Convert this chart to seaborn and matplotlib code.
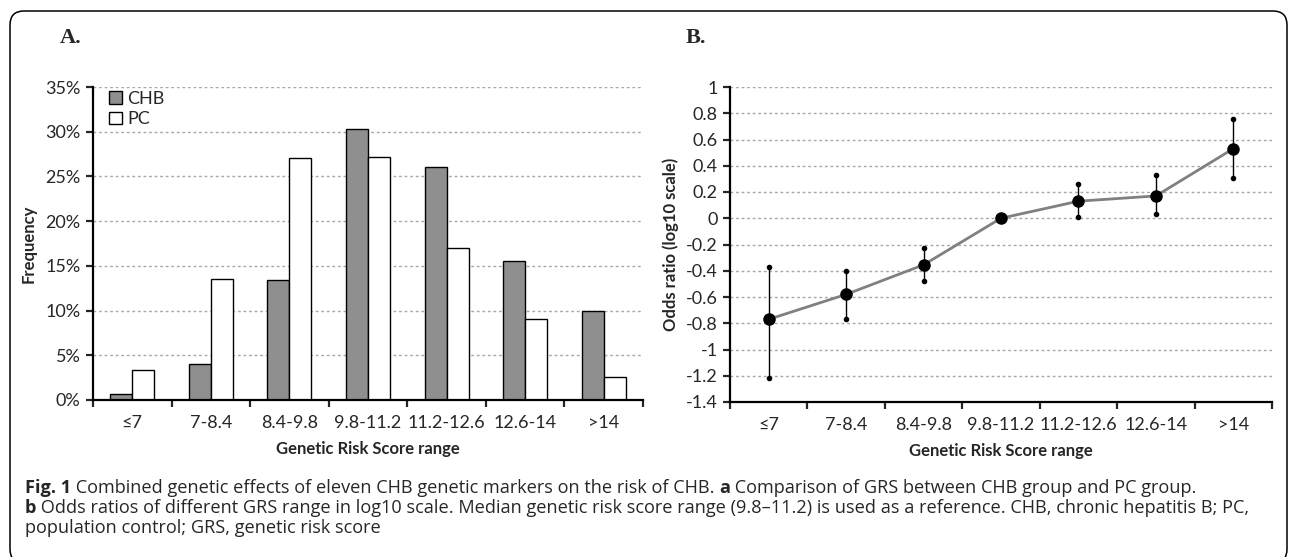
import matplotlib
matplotlib.use('Agg')
import matplotlib.pyplot as plt
from matplotlib import font_manager
from matplotlib.patches import FancyBboxPatch
from matplotlib.transforms import IdentityTransform
from matplotlib.ticker import PercentFormatter
import numpy as np
import pandas as pd
import seaborn as sns

# data
score_ranges = ['≤7', '7-8.4', '8.4-9.8', '9.8-11.2', '11.2-12.6', '12.6-14', '>14']
chb_freq = [0.7, 4.0, 13.4, 30.3, 26.0, 15.5, 10.0]
pc_freq = [3.3, 13.5, 27.1, 27.2, 17.0, 9.1, 2.6]

log_or = [-0.77, -0.58, -0.355, 0.0, 0.13, 0.17, 0.53]
log_or_upper = [-0.37, -0.40, -0.23, 0.0, 0.26, 0.33, 0.76]
log_or_lower = [-1.22, -0.77, -0.48, 0.0, 0.01, 0.03, 0.31]

caption_runs = [
    [('Fig. 1', True), (' Combined genetic effects of eleven CHB genetic markers on the risk of CHB. ', False),
     ('a', True), (' Comparison of GRS between CHB group and PC group.', False)],
    [('b', True), (' Odds ratios of different GRS range in log10 scale. Median genetic risk score range '
                   '(9.8\u201311.2) is used as a reference. CHB, chronic hepatitis B; PC,', False)],
    [('population control; GRS, genetic risk score', False)],
]

sns.set_style('white')
plt.rcParams['font.family'] = ['Lato', 'DejaVu Sans']
plt.rcParams['axes.unicode_minus'] = False

installed = {f.name for f in font_manager.fontManager.ttflist}
cap_font = ['Liberation Sans Narrow', 'DejaVu Sans'] if 'Liberation Sans Narrow' in installed \
    else ['Open Sans', 'DejaVu Sans']

W, H = 1290, 557
fig = plt.figure(figsize=(W / 100, H / 100), dpi=100)

TICK_FS = 13
LAB_FS = 12


def px_axes(x0, x1, ytop, ybot):
    return fig.add_axes([x0 / W, (H - ybot) / H, (x1 - x0) / W, (ybot - ytop) / H])


def style_axes(ax):
    for s in ['top', 'right']:
        ax.spines[s].set_visible(False)
    for s in ['left', 'bottom']:
        ax.spines[s].set_linewidth(1.6)
        ax.spines[s].set_color('black')
    ax.set_axisbelow(True)
    ax.yaxis.grid(True, linestyle=(0, (2, 2)), color='#a8a8a8', lw=1)
    ax.xaxis.grid(False)
    # tick marks on category boundaries, labels at centres
    n = len(score_ranges)
    ax.set_xlim(-0.5, n - 0.5)
    ax.set_xticks(np.arange(n + 1) - 0.5)
    ax.set_xticklabels([])
    ax.set_xticks(np.arange(n), minor=True)
    ax.set_xticklabels(score_ranges, minor=True, fontsize=TICK_FS)
    ax.tick_params(axis='x', which='major', direction='out', length=5, width=1.6, bottom=True)
    ax.tick_params(axis='x', which='minor', length=0, pad=11)
    ax.tick_params(axis='y', direction='out', length=5, width=1.6, labelsize=TICK_FS, left=True, pad=4)
    ax.set_xlabel('Genetic Risk Score range', fontsize=LAB_FS, fontweight='bold', labelpad=7)


# ---- panel A
axA = px_axes(93, 643, 87, 400)
df = pd.DataFrame({
    'range': score_ranges * 2,
    'freq': chb_freq + pc_freq,
    'group': ['CHB'] * len(score_ranges) + ['PC'] * len(score_ranges),
})
sns.barplot(data=df, x='range', y='freq', hue='group', palette={'CHB': '#8f8f8f', 'PC': 'white'},
            edgecolor='black', linewidth=1, width=0.56, saturation=1, ax=axA)
style_axes(axA)
axA.set_ylim(0, 35)
axA.set_yticks(np.arange(0, 36, 5))
axA.yaxis.set_major_formatter(PercentFormatter(100, decimals=0))
axA.set_ylabel('Frequency', fontsize=LAB_FS, fontweight='bold', labelpad=6)
leg = axA.legend(loc='upper left', bbox_to_anchor=(0.0, 1.04), frameon=False, fontsize=TICK_FS,
                 handlelength=0.7, handleheight=0.7, handletextpad=0.3, labelspacing=0.25)
for p in leg.get_patches():
    p.set_edgecolor('black')
    p.set_linewidth(1)

# ---- panel B
axB = px_axes(730, 1272, 87, 402)
xpos = np.arange(len(score_ranges))
sns.lineplot(x=xpos, y=log_or, color='#808080', lw=2, ax=axB, zorder=3)
lo = np.array(log_or) - np.array(log_or_lower)
hi = np.array(log_or_upper) - np.array(log_or)
axB.errorbar(xpos, log_or, yerr=[lo, hi], fmt='none', ecolor='black', elinewidth=1, capsize=0, zorder=4)
axB.plot(xpos, log_or_upper, ls='none', marker='o', ms=3, color='black', zorder=4)
axB.plot(xpos, log_or_lower, ls='none', marker='o', ms=3, color='black', zorder=4)
axB.plot(xpos, log_or, ls='none', marker='o', ms=8, color='black', zorder=5)
style_axes(axB)
yt = np.round(np.arange(-1.4, 1.01, 0.2), 1) + 0.0
axB.set_ylim(-1.4, 1)
axB.set_yticks(yt)
axB.set_yticklabels(['0' if abs(t) < 1e-9 else f'{t:g}' for t in yt])
axB.set_ylabel('Odds ratio (log10 scale)', fontsize=LAB_FS, fontweight='bold', labelpad=5)

# panel letters
fig.text(60 / W, 1 - 38 / H, 'A.', family=['Liberation Serif', 'DejaVu Serif'], fontweight='bold',
         fontsize=16, va='center')
fig.text(686 / W, 1 - 38 / H, 'B.', family=['Liberation Serif', 'DejaVu Serif'], fontweight='bold',
         fontsize=16, va='center')

# frame round the figure
fig.add_artist(FancyBboxPatch((10, -6), 1277, 552, boxstyle='round,pad=0,rounding_size=14',
                              transform=IdentityTransform(), fill=False, ec='black', lw=1.1))

# caption, built run by run so bold pieces sit inline
renderer = fig.canvas.get_renderer()
cap_size = 13.1
line_y = [488, 508, 528]
for runs, yy in zip(caption_runs, line_y):
    x = 25
    for txt, bold in runs:
        t = fig.text(x / W, 1 - yy / H, txt, family=cap_font, fontsize=cap_size,
                     fontweight='bold' if bold else 'normal', va='center', ha='left')
        x = t.get_window_extent(renderer).x1

fig.savefig('out.png', dpi=100)
